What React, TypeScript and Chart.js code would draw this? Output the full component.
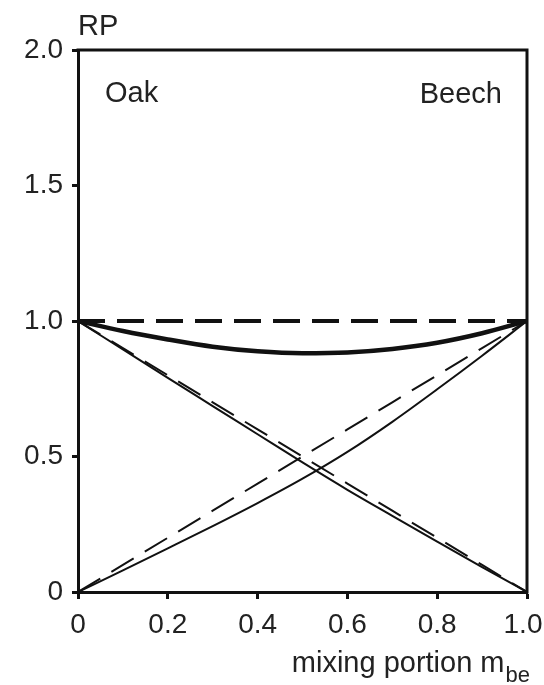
import React, { useEffect, useRef } from 'react';
import { Chart, registerables } from 'chart.js';

Chart.register(...registerables);

const FONT = '"Liberation Sans", Arial, Helvetica, sans-serif';

// mixing portion of beech (x values)
const mixingPortion = [0, 0.1, 0.2, 0.3, 0.4, 0.5, 0.6, 0.7, 0.8, 0.9, 1.0];
// thick solid curve: relative productivity of the mixture
const rpMixture = [1.0, 0.963, 0.932, 0.905, 0.888, 0.881, 0.884, 0.897, 0.92, 0.955, 1.0];
// thick dashed reference line
const rpReference = [1.0, 1.0, 1.0, 1.0, 1.0, 1.0, 1.0, 1.0, 1.0, 1.0, 1.0];
// thin solid curves
const rpOak = [1.0, 0.895, 0.79, 0.686, 0.582, 0.478, 0.377, 0.281, 0.186, 0.092, 0.0];
const rpBeech = [0.0, 0.08, 0.161, 0.243, 0.328, 0.418, 0.517, 0.628, 0.748, 0.872, 1.0];
// thin dashed lines (expected)
const rpOakExpected = [1.0, 0.9, 0.8, 0.7, 0.6, 0.5, 0.4, 0.3, 0.2, 0.1, 0.0];
const rpBeechExpected = [0.0, 0.1, 0.2, 0.3, 0.4, 0.5, 0.6, 0.7, 0.8, 0.9, 1.0];

const xTickValues = [0, 0.2, 0.4, 0.6, 0.8, 1.0];
const xTickLabels = ['0', '0.2', '0.4', '0.6', '0.8', '1.0'];
const yTickValues = [0, 0.5, 1.0, 1.5, 2.0];
const yTickLabels = ['0', '0.5', '1.0', '1.5', '2.0'];

const yTitle = 'RP';
const xTitleMain = 'mixing portion m';
const xTitleSub = 'be';
const leftLabel = 'Oak';
const rightLabel = 'Beech';

const TICK_SIZE = 28;
const X_TICK_LEN = 7;
const X_TICK_PAD = 9;

const toPoints = (ys: number[]) => ys.map((y, i) => ({ x: mixingPortion[i], y }));

const labelFor = (values: number[], labels: string[], v: number) => {
  const i = values.findIndex((t) => Math.abs(t - v) < 1e-9);
  return i >= 0 ? labels[i] : '';
};

const lastX = xTickValues.length - 1;

const annotationPlugin = {
  id: 'annotations',
  afterDraw(chart: any) {
    const { ctx, chartArea: a, scales } = chart;
    ctx.save();
    ctx.strokeStyle = '#111';
    ctx.lineWidth = 3;
    ctx.beginPath();
    ctx.moveTo(a.left - 1.5, a.top);
    ctx.lineTo(a.right, a.top);
    ctx.lineTo(a.right, a.bottom + 1.5);
    ctx.stroke();

    ctx.fillStyle = '#222';
    // last x tick label, nudged left so it stays inside the canvas (as in the original)
    ctx.font = `${TICK_SIZE}px ${FONT}`;
    ctx.textAlign = 'center';
    ctx.textBaseline = 'middle';
    ctx.fillText(
      xTickLabels[lastX],
      scales.x.getPixelForValue(xTickValues[lastX]) - 4,
      scales.x.top + X_TICK_LEN + X_TICK_PAD + (TICK_SIZE * 1.2) / 2
    );

    ctx.textBaseline = 'alphabetic';
    ctx.font = `29px ${FONT}`;
    ctx.textAlign = 'left';
    ctx.fillText(yTitle, a.left, 35);
    ctx.fillText(leftLabel, a.left + 27, a.top + 52);
    ctx.textAlign = 'right';
    ctx.fillText(rightLabel, a.right - 25, a.top + 53);

    const endX = a.right + 3;
    ctx.font = `22px ${FONT}`;
    const subW = ctx.measureText(xTitleSub).width;
    ctx.fillText(xTitleSub, endX, 682);
    ctx.font = `29px ${FONT}`;
    ctx.fillText(xTitleMain, endX - subW - 1, 672);
    ctx.restore();
  },
};

export default function App() {
  const canvasRef = useRef<HTMLCanvasElement | null>(null);

  useEffect(() => {
    const canvas = canvasRef.current;
    if (!canvas) return;
    const thin = { pointRadius: 0, borderColor: '#111', fill: false, borderCapStyle: 'butt' as const };
    const chart = new Chart(canvas, {
      type: 'line',
      data: {
        datasets: [
          { ...thin, data: toPoints(rpReference), borderWidth: 4, borderDash: [27, 12], tension: 0 },
          { ...thin, data: toPoints(rpOakExpected), borderWidth: 2, borderDash: [26, 13], tension: 0 },
          { ...thin, data: toPoints(rpBeechExpected), borderWidth: 2, borderDash: [26, 13], tension: 0 },
          { ...thin, data: toPoints(rpOak), borderWidth: 2, cubicInterpolationMode: 'monotone' },
          { ...thin, data: toPoints(rpBeech), borderWidth: 2, cubicInterpolationMode: 'monotone' },
          { ...thin, data: toPoints(rpMixture), borderWidth: 4.5, cubicInterpolationMode: 'monotone' },
        ],
      },
      options: {
        animation: false,
        responsive: false,
        devicePixelRatio: 1,
        layout: { autoPadding: false, padding: { top: 50, right: 17, left: 0, bottom: 0 } },
        plugins: { legend: { display: false }, tooltip: { enabled: false } },
        scales: {
          x: {
            type: 'linear',
            position: 'bottom',
            min: 0,
            max: 1,
            afterBuildTicks: (s: any) => {
              s.ticks = xTickValues.map((v) => ({ value: v }));
            },
            afterFit: (s: any) => {
              s.height = 93;
              s.paddingLeft = 0;
              s.paddingRight = 0;
            },
            ticks: {
              callback: (v: any, i: number) => (i === lastX ? '' : labelFor(xTickValues, xTickLabels, Number(v))),
              font: { family: FONT, size: TICK_SIZE },
              color: '#222',
              padding: X_TICK_PAD,
              maxRotation: 0,
              autoSkip: false,
            },
            grid: { drawOnChartArea: false, drawTicks: true, tickLength: X_TICK_LEN, tickWidth: 3, tickColor: '#111' },
            border: { display: true, width: 3, color: '#111' },
          },
          y: {
            type: 'linear',
            position: 'left',
            min: 0,
            max: 2,
            afterBuildTicks: (s: any) => {
              s.ticks = yTickValues.map((v) => ({ value: v }));
            },
            afterFit: (s: any) => {
              s.width = 78;
              s.paddingTop = 0;
              s.paddingBottom = 0;
            },
            ticks: {
              callback: (v: any) => labelFor(yTickValues, yTickLabels, Number(v)),
              font: { family: FONT, size: TICK_SIZE },
              color: '#222',
              padding: 9,
              autoSkip: false,
            },
            grid: { drawOnChartArea: false, drawTicks: true, tickLength: 6, tickWidth: 3, tickColor: '#111' },
            border: { display: true, width: 3, color: '#111' },
          },
        },
      },
      plugins: [annotationPlugin],
    } as any);
    return () => chart.destroy();
  }, []);

  return (
    <div style={{ position: 'absolute', left: 0, top: 0, width: 544, height: 685, background: '#fff' }}>
      <canvas ref={canvasRef} width={544} height={685} style={{ width: 544, height: 685, display: 'block' }} />
    </div>
  );
}
